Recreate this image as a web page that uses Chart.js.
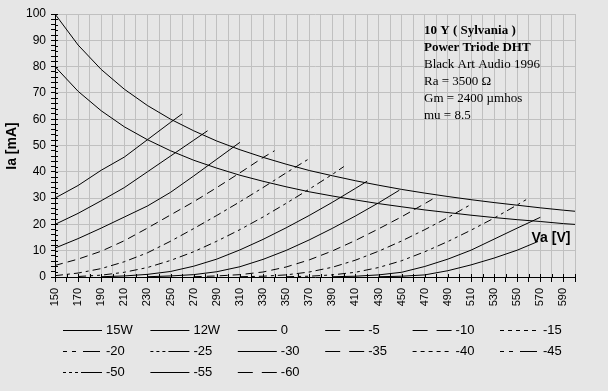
<!DOCTYPE html>
<html>
<head>
<meta charset="utf-8">
<title>10 Y plate curves</title>
<script src="https://cdn.jsdelivr.net/npm/chart.js@4"></script>
<style>
    html, body { margin: 0; padding: 0; background: #e6e6e6; }
    #wrap { width: 608px; height: 391px; }
</style>
</head>
<body>
<div id="wrap"><canvas id="plateChart" width="608" height="391"></canvas></div>
<script>
// Dissipation limits (Va in V, Ia in mA)
const vaGrid = [150, 170, 190, 210, 230, 250, 270, 290, 310, 330, 350, 370, 390, 410, 430, 450, 470, 490, 510, 530, 550, 570, 590, 600];
const ia15W = [100, 88.2, 78.9, 71.4, 65.2, 60, 55.6, 51.7, 48.4, 45.5, 42.9, 40.5, 38.5, 36.6, 34.9, 33.3, 31.9, 30.6, 29.4, 28.3, 27.3, 26.3, 25.4, 25];
const ia12W = [80, 70.6, 63.2, 57.1, 52.2, 48, 44.4, 41.4, 38.7, 36.4, 34.3, 32.4, 30.8, 29.3, 27.9, 26.7, 25.5, 24.5, 23.5, 22.6, 21.8, 21.1, 20.3, 20];

// Plate curves, one pair of arrays per grid voltage
const g0Va = [150, 170, 190, 210, 230, 250, 260];
const g0Ia = [30, 34.8, 40.6, 45.6, 52.2, 58.8, 62];
const g5Va = [150, 170, 190, 210, 230, 250, 270, 282];
const g5Ia = [20, 24.2, 29, 34, 40, 46, 52, 55.6];
const g10Va = [150, 170, 190, 210, 230, 250, 270, 290, 310];
const g10Ia = [11, 14.6, 18.6, 22.8, 27, 32.2, 38.4, 44.8, 51.2];
const g15Va = [150, 170, 190, 210, 230, 250, 270, 290, 310, 330, 340];
const g15Ia = [4.4, 6.8, 9.8, 13.8, 18.6, 23.6, 28.6, 34, 39.6, 45.4, 48];
const g20Va = [150, 170, 190, 210, 230, 250, 270, 290, 310, 330, 350, 370];
const g20Ia = [0.5, 1.5, 3.2, 5.8, 9.2, 13.6, 18.4, 23.4, 28.6, 34, 39.6, 45];
const g25Va = [170, 190, 210, 230, 250, 270, 290, 310, 330, 350, 370, 390, 400];
const g25Ia = [0.2, 0.7, 1.8, 3.6, 6.3, 9.6, 13.6, 18, 22.8, 28, 33.4, 39, 42];
const g30Va = [190, 210, 230, 250, 270, 290, 310, 330, 350, 370, 390, 410, 420];
const g30Ia = [0.1, 0.4, 1, 2.1, 4.1, 6.8, 10.3, 14.3, 18.7, 23.4, 28.4, 33.7, 36.4];
const g35Va = [230, 250, 270, 290, 310, 330, 350, 370, 390, 410, 430, 448];
const g35Ia = [0.1, 0.4, 0.9, 2, 3.9, 6.7, 10.1, 14.1, 18.5, 23.2, 28.2, 33];
const g40Va = [270, 290, 310, 330, 350, 370, 390, 410, 430, 450, 470, 477];
const g40Ia = [0.1, 0.4, 0.9, 1.9, 3.8, 6.5, 9.9, 13.9, 18.3, 22.9, 27.9, 29.7];
const g45Va = [310, 330, 350, 370, 390, 410, 430, 450, 470, 490, 510];
const g45Ia = [0.1, 0.3, 0.8, 1.9, 3.7, 6.4, 9.8, 13.7, 18, 22.6, 27.6];
const g50Va = [350, 370, 390, 410, 430, 450, 470, 490, 510, 530, 550, 560];
const g50Ia = [0.1, 0.3, 0.8, 1.8, 3.6, 6.2, 9.6, 13.5, 17.8, 22.4, 27.4, 30];
const g55Va = [390, 410, 430, 450, 470, 490, 510, 530, 550, 570];
const g55Ia = [0.1, 0.3, 0.8, 1.8, 4, 6.8, 10.2, 14.4, 18.6, 22.7];
const g60Va = [430, 450, 470, 490, 510, 530, 550, 568];
const g60Ia = [0.1, 0.3, 0.8, 2.4, 4.6, 7.2, 10.2, 13.5];

const seriesLabels = ['15W', '12W', '0', '-5', '-10', '-15', '-20', '-25', '-30', '-35', '-40', '-45', '-50', '-55', '-60'];

const infoLines = ['10 Y ( Sylvania )', 'Power Triode DHT', 'Black Art Audio 1996', 'Ra = 3500 \u03A9', 'Gm = 2400 \u00B5mhos', 'mu = 8.5'];

// Line styles: how a curve looks in the plot, and its sample in the legend
const SOLID = [];
const plotDash = [SOLID, SOLID, SOLID, SOLID, SOLID, [8, 5], [8, 4, 3, 4], [8, 4, 3, 4, 3, 4], SOLID, SOLID, [8, 5], [8, 4, 3, 4], [8, 4, 3, 4, 3, 4], SOLID, SOLID];
const LONG = [15, 9], SHORT = [4, 4], DASHDOT = [4, 5, 4, 7, 17, 10], DASHDOTDOT = [3, 3, 3, 3, 3, 3, 22, 10];
const legendDash = [SOLID, SOLID, SOLID, LONG, LONG, SHORT, DASHDOT, DASHDOTDOT, SOLID, LONG, SHORT, DASHDOT, DASHDOTDOT, SOLID, LONG];

const BG = '#e6e6e6';
const GRID = '#c0c0c0';
const SANS = '"Liberation Sans", Arial, sans-serif';
const SERIF = '"Liberation Serif", "Times New Roman", serif';

function toPoints(va, ia) {
    return va.map((v, i) => ({ x: v, y: ia[i] }));
}

const curveData = [
    toPoints(vaGrid, ia15W), toPoints(vaGrid, ia12W),
    toPoints(g0Va, g0Ia), toPoints(g5Va, g5Ia), toPoints(g10Va, g10Ia),
    toPoints(g15Va, g15Ia), toPoints(g20Va, g20Ia), toPoints(g25Va, g25Ia),
    toPoints(g30Va, g30Ia), toPoints(g35Va, g35Ia), toPoints(g40Va, g40Ia),
    toPoints(g45Va, g45Ia), toPoints(g50Va, g50Ia), toPoints(g55Va, g55Ia),
    toPoints(g60Va, g60Ia)
];

const datasets = curveData.map((pts, i) => ({
    label: seriesLabels[i],
    data: pts,
    borderColor: '#000',
    borderWidth: 1,
    borderDash: plotDash[i],
    pointRadius: 0,
    tension: 0,
    fill: false
}));

// Paint the grey page behind everything
const backdrop = {
    id: 'backdrop',
    beforeDraw(chart) {
        const ctx = chart.ctx;
        ctx.save();
        ctx.fillStyle = BG;
        ctx.fillRect(0, 0, chart.width, chart.height);
        ctx.restore();
    }
};

// Short tick marks on the inner side of both axes
const innerTicks = {
    id: 'innerTicks',
    afterDraw(chart) {
        const ctx = chart.ctx;
        const { x, y } = chart.scales;
        ctx.save();
        ctx.strokeStyle = '#000';
        ctx.lineWidth = 1;
        ctx.beginPath();
        y.ticks.forEach(t => {
            const py = Math.round(y.getPixelForValue(t.value)) + 0.5;
            ctx.moveTo(y.right, py);
            ctx.lineTo(y.right + 3, py);
        });
        x.ticks.forEach(t => {
            const px = Math.round(x.getPixelForValue(t.value)) + 0.5;
            ctx.moveTo(px, x.top);
            ctx.lineTo(px, x.top - 3);
        });
        ctx.stroke();
        ctx.restore();
    }
};

// Titles, info block and the grid-style legend
const annotations = {
    id: 'annotations',
    afterDraw(chart) {
        const ctx = chart.ctx;
        ctx.save();
        ctx.fillStyle = '#000';
        ctx.textBaseline = 'middle';

        // info block, upper right
        ctx.textAlign = 'left';
        infoLines.forEach((txt, i) => {
            ctx.font = (i < 2 ? 'bold ' : '') + '13px ' + SERIF;
            ctx.fillText(txt, 424, 31 + i * 17);
        });

        // axis titles
        ctx.font = 'bold 14px ' + SANS;
        ctx.textAlign = 'center';
        ctx.fillText('Va [V]', 551, 238);
        ctx.save();
        ctx.translate(12, 146);
        ctx.rotate(-Math.PI / 2);
        ctx.fillText('Ia [mA]', 0, 0);
        ctx.restore();

        // legend, 6 columns
        ctx.font = '13px ' + SANS;
        ctx.textAlign = 'left';
        ctx.lineWidth = 1;
        ctx.strokeStyle = '#000';
        chart.data.datasets.forEach((ds, i) => {
            const col = i % 6;
            const row = Math.floor(i / 6);
            const x0 = 63 + col * 87.4;
            const y = 330 + row * 21 + 0.5;
            ctx.setLineDash(legendDash[i]);
            ctx.beginPath();
            ctx.moveTo(x0, y);
            ctx.lineTo(x0 + 39, y);
            ctx.stroke();
            ctx.setLineDash([]);
            ctx.fillText(ds.label, x0 + 43, y);
        });
        ctx.restore();
    }
};

const chart = new Chart(document.getElementById('plateChart'), {
    type: 'line',
    data: { datasets },
    options: {
        responsive: false,
        animation: false,
        events: [],
        layout: { padding: { left: 0, right: 33, top: 14, bottom: 0 } },
        plugins: {
            legend: { display: false },
            tooltip: { enabled: false },
            title: { display: false }
        },
        scales: {
            x: {
                type: 'linear',
                min: 150,
                max: 600,
                afterFit: s => { s.height = 114; },
                border: { color: '#000', width: 1 },
                grid: { color: GRID, tickColor: '#000', tickLength: 5 },
                ticks: {
                    stepSize: 10,
                    autoSkip: false,
                    minRotation: 90,
                    maxRotation: 90,
                    padding: 6,
                    color: '#000',
                    font: { family: SANS, size: 11 },
                    callback: v => ((v - 150) % 20 === 0 ? String(v) : '')
                }
            },
            y: {
                min: 0,
                max: 100,
                afterFit: s => { s.width = 55; },
                border: { color: '#000', width: 1 },
                grid: {
                    color: c => (c.tick && c.tick.value % 10 === 0 ? GRID : 'rgba(0,0,0,0)'),
                    tickColor: '#000',
                    tickLength: 4
                },
                ticks: {
                    stepSize: 2,
                    autoSkip: false,
                    padding: 5,
                    color: '#000',
                    font: { family: SANS, size: 12 },
                    callback: v => (v % 10 === 0 ? String(v) : '')
                }
            }
        }
    },
    plugins: [backdrop, innerTicks, annotations]
});
</script>
</body>
</html>
